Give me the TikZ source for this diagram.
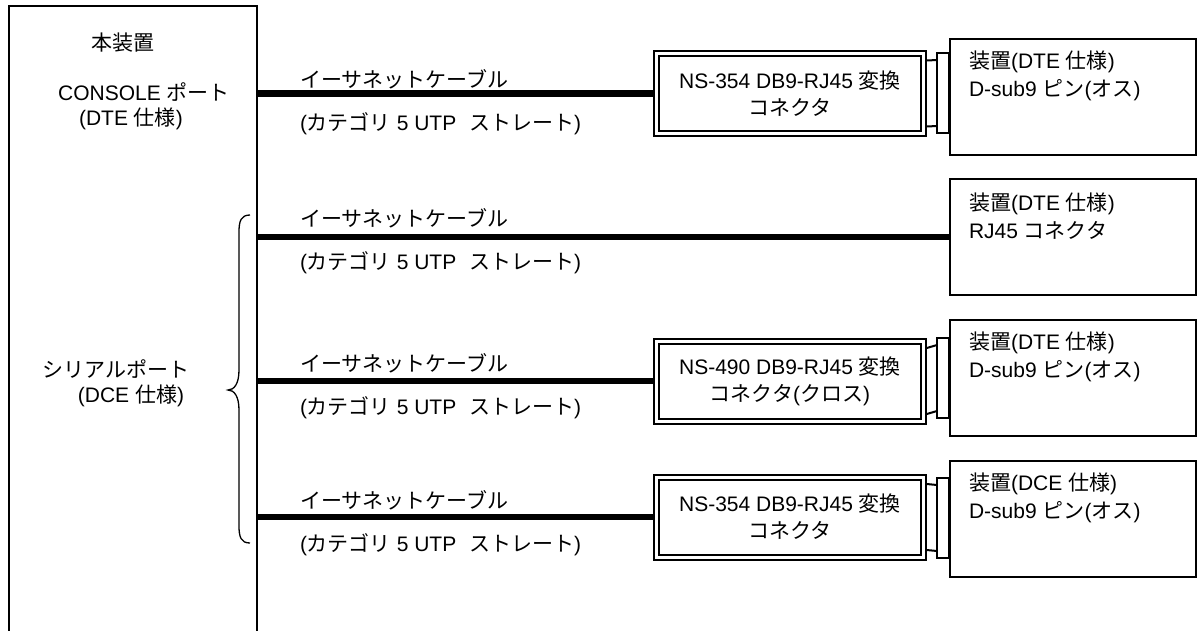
\documentclass[tikz,border=0pt]{standalone}
\usepackage{fontspec}
\setmainfont{Liberation Sans}
\newfontfamily\jp{Noto Sans CJK JP}
\newcommand\J[1]{{\jp #1}}
\usetikzlibrary{calc}
\begin{document}
\begin{tikzpicture}[x=1pt,y=-1pt,
  every node/.style={inner sep=0pt, outer sep=0pt},
  txt/.style={font=\fontsize{21}{28}\selectfont},
  frame/.style={draw, line width=2pt},
  convbox/.style={draw, line width=2pt, double, double distance=3pt,
    minimum width=267.5pt, minimum height=80pt, align=center,
    font=\fontsize{21}{27}\selectfont},
  devbox/.style={frame, minimum width=245.5pt, minimum height=116pt},
  plug/.style={frame, minimum width=12pt, minimum height=80pt},
  cable/.style={line width=6.5pt},
  thin/.style={line width=2pt},
  bracepath/.style={line width=1.3pt}]
\useasboundingbox (0,0) rectangle (1198,630);
\clip (0,0) rectangle (1198,630);

% main unit
\node[frame, minimum width=248pt, minimum height=700pt, anchor=north west] (main) at (9,6) {};
\node[txt] (t0) at (123,43) {\J{本装置}};
\node[txt] (t1) at (144,92) {CONSOLE \J{ポート}};
\node[txt] (t2) at (131,119) {(DTE \J{仕様})};
\node[txt] (t3) at (116,369) {\J{シリアルポート}};
\node[txt] (t4) at (131,396) {(DCE \J{仕様})};

% brace
\draw[bracepath] (250,215) .. controls (241,215) and (239,221) .. (239,232)
  -- (239,370) .. controls (239,384) and (234,390) .. (228,390)
  .. controls (234,390) and (239,396) .. (239,410)
  -- (239,526) .. controls (239,537) and (241,543) .. (250,543);

% converters
\node[convbox] (c1) at (790,93.5) {NS-354 DB9-RJ45 \J{変換}\\\J{コネクタ}};
\node[convbox] (c3) at (790,381) {NS-490 DB9-RJ45 \J{変換}\\\J{コネクタ}(\J{クロス})};
\node[convbox] (c4) at (790,517) {NS-354 DB9-RJ45 \J{変換}\\\J{コネクタ}};

% plugs
\node[plug] (p1) at (943,93) {};
\node[plug] (p3) at (943,378) {};
\node[plug] (p4) at (943,518) {};

% devices
\node[devbox] (d1) at (1072.75,97) {};
\node[devbox] (d2) at (1072.75,237) {};
\node[devbox] (d3) at (1072.75,378) {};
\node[devbox] (d4) at (1072.75,519) {};
\node[txt, anchor=west, align=left] (dt1) at ($(d1.west)+(19,-21)$) {\J{装置}(DTE \J{仕様})\\D-sub9 \J{ピン}(\J{オス})};
\node[txt, anchor=west, align=left] (dt2) at ($(d2.west)+(19,-21)$) {\J{装置}(DTE \J{仕様})\\RJ45 \J{コネクタ}};
\node[txt, anchor=west, align=left] (dt3) at ($(d3.west)+(19,-21)$) {\J{装置}(DTE \J{仕様})\\D-sub9 \J{ピン}(\J{オス})};
\node[txt, anchor=west, align=left] (dt4) at ($(d4.west)+(19,-21)$) {\J{装置}(DCE \J{仕様})\\D-sub9 \J{ピン}(\J{オス})};

% plug stubs
\foreach \i in {1,3,4}{
  \draw[thin] ($(c\i.east)+(3,-33)$) -- ($(p\i.west)+(0,-33)$);
  \draw[thin] ($(c\i.east)+(3,33)$) -- ($(p\i.west)+(0,33)$);
}

% cables
\draw[cable] (c1.west -| main.east) -- ($(c1.west)+(-2.5,0)$);
\draw[cable] (d2.west -| main.east) -- (d2.west);
\draw[cable] (c3.west -| main.east) -- ($(c3.west)+(-2.5,0)$);
\draw[cable] (c4.west -| main.east) -- ($(c4.west)+(-2.5,0)$);

% cable labels
\foreach \r/\y in {1/97,2/236,3/381,4/518}{
  \node[txt, anchor=west] (la\r) at (300,\y-18) {\J{イーサネットケーブル}};
  \node[txt, anchor=west] (lb\r) at (300,\y+27) {(\J{カテゴリ} 5 UTP\hspace{7pt} \J{ストレート})};
}
\end{tikzpicture}
\end{document}
